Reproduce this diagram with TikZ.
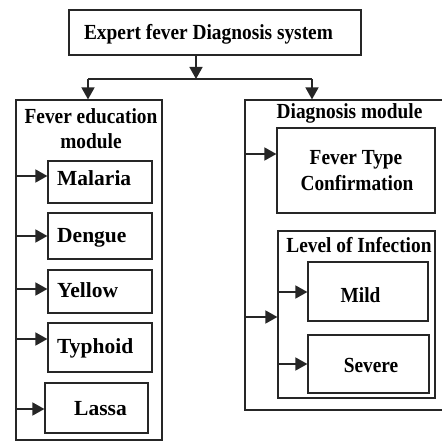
\documentclass[tikz,border=0pt]{standalone}
\usepackage{fontspec}
\setmainfont{Liberation Serif}
\newfontfamily\fcond[FakeStretch=0.9]{Liberation Serif}
\newfontfamily\fnorm{Liberation Serif}
\usetikzlibrary{arrows.meta}
\tikzset{
  boxn/.style={draw=black!85, line width=1.2pt, inner sep=0pt, anchor=center, rectangle},
  lblc/.style={inner sep=0pt, font=\fcond\bfseries\fontsize{21.5}{24}\selectfont, anchor=base},
  lbll/.style={inner sep=0pt, font=\fnorm\bfseries\fontsize{21.5}{24}\selectfont, anchor=base west},
  conn/.style={draw=black!85, line width=1.6pt},
  arr/.style={conn, -{Triangle[length=12pt,width=13pt]}}
}
\begin{document}
\begin{tikzpicture}[x=1pt,y=-1pt]
\useasboundingbox (0,0) rectangle (441,441);
% title
\node[boxn, minimum width=292pt, minimum height=45pt] (title) at (215,32.5) {};
\node[lblc] (titlet) at (208.5,40) {Expert fever Diagnosis system};
% left module
\node[boxn, minimum width=146pt, minimum height=340pt] (edu) at (89,270) {};
\node[lblc] (edut1) at (91,123) {Fever education};
\node[lblc] (edut2) at (91,148) {module};
\node[boxn, minimum width=104pt, minimum height=42pt] (malaria) at (100,182) {};
\node[lbll] (malariat) at (57,185) {Malaria};
\node[boxn, minimum width=104pt, minimum height=46pt] (dengue) at (100,236) {};
\node[lbll] (denguet) at (57,242) {Dengue};
\node[boxn, minimum width=104pt, minimum height=43pt] (yellow) at (100,291.5) {};
\node[lbll] (yellowt) at (57,297) {Yellow};
\node[boxn, minimum width=104pt, minimum height=49pt] (typhoid) at (100,347.5) {};
\node[lbll] (typhoidt) at (57,353) {Typhoid};
\node[boxn, minimum width=103pt, minimum height=50pt] (lassa) at (96.5,408) {};
\node[lbll] (lassat) at (74,415) {Lassa};
% right module
\node[boxn, minimum width=198pt, minimum height=310pt] (diag) at (344,255) {};
\node[lblc] (diagt) at (349.5,118) {Diagnosis module};
\node[boxn, minimum width=158pt, minimum height=85pt] (ftc) at (356,170.5) {};
\node[lblc] (ftct1) at (356,164) {Fever Type};
\node[lblc] (ftct2) at (357,190) {Confirmation};
\node[boxn, minimum width=157pt, minimum height=167pt] (loi) at (356.5,314.5) {};
\node[lblc] (loit) at (359,252) {Level of Infection};
\node[boxn, minimum width=120pt, minimum height=59pt] (mild) at (368,291.5) {};
\node[lblc] (mildt) at (360.5,302) {Mild};
\node[boxn, minimum width=121pt, minimum height=58pt] (severe) at (368.5,364) {};
\node[lblc] (severet) at (371,372) {Severe};
% top connectors
\coordinate (j) at (196,79);
\coordinate (jl) at (88,79);
\coordinate (jr) at (312,79);
\draw[arr] (title.south -| j) -- (j);
\draw[conn] (jl) -- (jr);
\draw[arr] (jl) -- (edu.north -| jl);
\draw[arr] (jr) -- (diag.north -| jr);
% left arrows
\draw[arr] (edu.west |- 0,176) -- (malaria.west |- 0,176);
\draw[arr] (edu.west |- 0,236) -- (dengue.west |- 0,236);
\draw[arr] (edu.west |- 0,289) -- (yellow.west |- 0,289);
\draw[arr] (edu.west |- 0,339) -- (typhoid.west |- 0,339);
\draw[arr] (edu.west |- 0,409) -- (lassa.west |- 0,409);
% right arrows
\draw[arr] (diag.west |- 0,154) -- (ftc.west |- 0,154);
\draw[arr] (diag.west |- 0,317) -- (loi.west |- 0,317);
\draw[arr] (loi.west |- 0,292) -- (mild.west |- 0,292);
\draw[arr] (loi.west |- 0,364) -- (severe.west |- 0,364);
\end{tikzpicture}
\end{document}
